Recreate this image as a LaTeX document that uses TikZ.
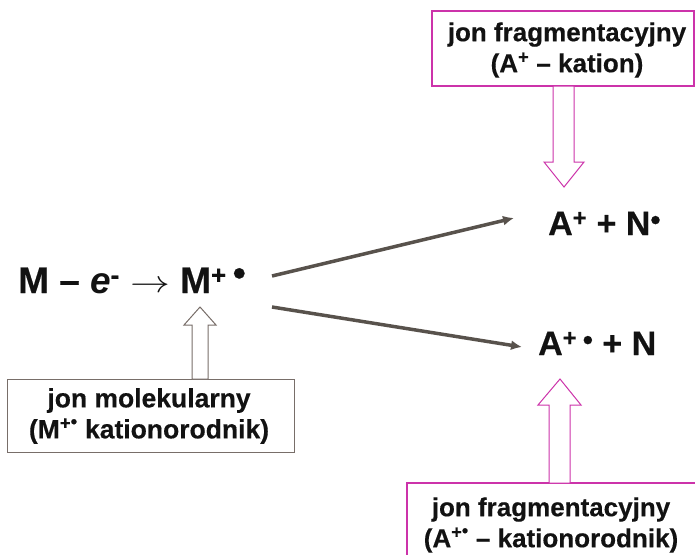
\documentclass[tikz,border=0pt]{standalone}
\usepackage{fontspec}
\usetikzlibrary{arrows.meta}
\setmainfont[BoldFeatures={FakeBold=0.4}]{Liberation Sans}
\definecolor{mag}{RGB}{204,51,170}
\definecolor{arr}{RGB}{88,82,76}
\definecolor{gbox}{RGB}{120,110,105}
\newcommand{\sbul}{\raisebox{0.15ex}{\textbullet}}
\begin{document}
\begin{tikzpicture}[x=1pt,y=-1pt,
  boxtxt/.style={font=\bfseries\fontsize{26}{31}\selectfont, align=center, text=black!93},
  boxtxtl/.style={font=\bfseries\fontsize{26.5}{31}\selectfont, align=center, text=black!93},
  eqtxt/.style={font=\bfseries\fontsize{37}{40}\selectfont, text=black!93, inner sep=0pt, anchor=base west},
  prtxt/.style={font=\bfseries\fontsize{34}{40}\selectfont, text=black!93, inner sep=0pt, anchor=base west},
  fatarrow/.style={line width=1pt, fill=white},
  reacarrow/.style={arr, line width=3.5pt, -{Latex[length=11pt,width=10pt]}}
]
\useasboundingbox (0,0) rectangle (695,554);
% top box
\draw[mag, line width=1.2pt] (432,11) rectangle (694,86);
\node[boxtxt] (topbox) at (567,50) {jon fragmentacyjny\\(A\textsuperscript{+} – kation)};
% bottom right box
\draw[mag, line width=1.2pt] (407,483) rectangle (700,560);
\node[boxtxt] (brbox) at (551,525) {jon fragmentacyjny\\(A\textsuperscript{+\sbul} – kationorodnik)};
% bottom left box
\draw[gbox, line width=1pt] (7,379) rectangle (294,452);
\node[boxtxtl] (blbox) at (149,416) {jon molekularny\\(M\textsuperscript{+\sbul} kationorodnik)};
% equations
\node[eqtxt] (eq) at (18,293) {M – \textit{e}\textsuperscript{-} \raisebox{0.05ex}{\scalebox{1.6}[1.25]{$\rightarrow$}} M\textsuperscript{+}\,\raisebox{0.38ex}{\textbullet}};
\node[prtxt] (p1) at (548,235) {A\textsuperscript{+} + N\raisebox{0.3ex}{\scalebox{0.85}{\textbullet}}};
\node[prtxt] (p2) at (538,355) {A\textsuperscript{+}\,\raisebox{0.3ex}{\scalebox{0.85}{\textbullet}} + N};
% reaction arrows
\coordinate (s1) at (272,276);
\coordinate (e1) at (514,218);
\coordinate (s2) at (272,307);
\coordinate (e2) at (522,347);
\draw[reacarrow] (s1) -- (e1);
\draw[reacarrow] (s2) -- (e2);
% block arrow down (magenta)
\draw[mag, fatarrow] (553,86) -- (574,86) -- (574,162) -- (584,162) -- (564,187) -- (544,162) -- (553,162) -- cycle;
% block arrow up (magenta)
\draw[mag, fatarrow] (549,483) -- (570,483) -- (570,405) -- (581,405) -- (560,379) -- (538,405) -- (549,405) -- cycle;
% block arrow up (gray)
\draw[gbox, fatarrow] (192,379) -- (208,379) -- (208,325) -- (216,325) -- (200,307) -- (184,325) -- (192,325) -- cycle;
\end{tikzpicture}
\end{document}
